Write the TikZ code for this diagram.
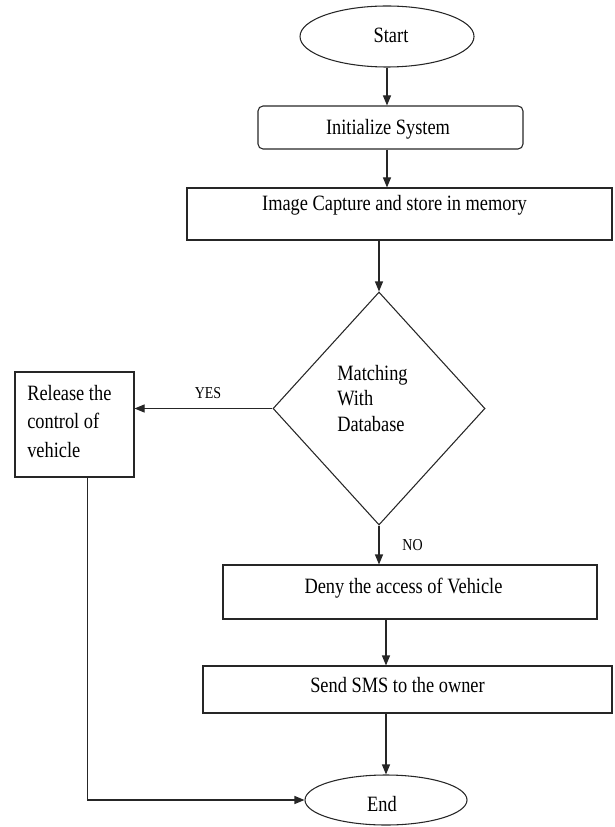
\documentclass[tikz,border=0pt]{standalone}
\usepackage{fontspec}
\setmainfont{Liberation Serif}[FakeStretch=0.84]
\usetikzlibrary{shapes.geometric,arrows.meta,calc}
\begin{document}
\begin{tikzpicture}[x=0.75pt,y=-0.75pt,
  shp/.style={draw=black!85, line width=0.8pt, inner sep=0pt},
  txt/.style={inner sep=0pt, font=\fontsize{16.4}{19.1}\selectfont},
  lbl/.style={inner sep=0pt, font=\fontsize{12.5}{15}\selectfont},
  arr/.style={draw=black!85, line width=0.8pt, -{Triangle[length=7.5pt,width=6pt]}}]
\useasboundingbox (0,0) rectangle (614,827);
% shapes
\node[shp, ellipse, minimum width=130.5pt, minimum height=45.75pt] (start) at (387,36.5) {};
\node[shp, rectangle, rounded corners=3.75pt, minimum width=198.75pt, minimum height=32.25pt] (init) at (390.5,127.5) {};
\node[shp, rectangle, minimum width=318.75pt, minimum height=39pt] (capture) at (399.5,214) {};
\node[shp, diamond, minimum width=159pt, minimum height=174.75pt] (diamond) at (379,408.5) {};
\node[shp, rectangle, minimum width=89.25pt, minimum height=78.75pt] (release) at (74.5,424.5) {};
\node[shp, rectangle, minimum width=280.5pt, minimum height=40.5pt] (deny) at (410,592) {};
\node[shp, rectangle, minimum width=306.75pt, minimum height=35.25pt] (sms) at (407.5,689.5) {};
\node[shp, ellipse, minimum width=121.5pt, minimum height=37.5pt] (end) at (386,800) {};
% texts
\node[txt, anchor=base] (startt) at (391,43) {Start};
\node[txt, anchor=base] (initt) at (388,135) {Initialize System};
\node[txt, anchor=base] (capt) at (394.5,210) {Image Capture and store in memory};
\node[txt, anchor=north west, align=left] (diat) at (337,365) {Matching\\With\\Database};
\node[txt, anchor=north west, align=left, font=\fontsize{16.4}{21.4}\selectfont] (relt) at (27,385) {Release the\\control of\\vehicle};
\node[txt, anchor=base] (denyt) at (403.5,593) {Deny the access of Vehicle};
\node[txt, anchor=base] (smst) at (397.5,692) {Send SMS to the owner};
\node[txt, anchor=base] (endt) at (382,811) {End};
\node[lbl, anchor=base] (yes) at (208,398) {YES};
\node[lbl, anchor=base] (no) at (412.5,550) {NO};
% connectors
\draw[arr] (start.south) -- (start.south |- init.north);
\draw[arr] (start.south |- init.south) -- (start.south |- capture.north);
\draw[arr] (diamond.north |- capture.south) -- (diamond.north);
\draw[arr] (diamond.west) -- (release.east |- diamond.west);
\draw[arr] (diamond.south) -- (diamond.south |- deny.north);
\draw[arr] (end.north |- deny.south) -- (end.north |- sms.north);
\draw[arr] (end.north |- sms.south) -- (end.north);
\draw[arr] ($(release.south west)!0.605!(release.south east)$) |- (end.west);
\end{tikzpicture}
\end{document}
